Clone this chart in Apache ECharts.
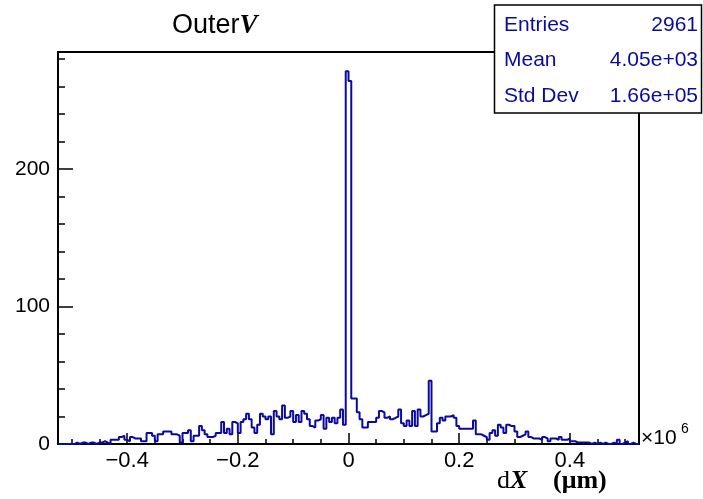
<!DOCTYPE html>
<html><head><meta charset="utf-8">
<script src="https://cdn.jsdelivr.net/npm/echarts@6/dist/echarts.min.js"></script>
<style>html,body{margin:0;padding:0;background:#fff}#c{width:703px;height:499px}</style>
</head><body><div id="c"></div>
<script>
// histogram binning
const binLow = -0.525;
const binWidth = 0.005;
// bin contents (210 bins)
const counts = [
  0,0,0,0,0,0,1,0,1,1, 0,1,1,0,1,1,2,1,0,3,
  3,3,5,6,3,2,5,4,4,4, 2,2,8,8,6,2,7,7,9,9,
  9,7,7,6,1,8,8,10,2,6, 6,13,
  10,7,5,5,6,8,8,16,8,11, 7,16,15,8,16,18,22,18,12,8,
  14,22,20,18,20,7,24,20,18,28, 19,20,24,16,21,16,24,22,18,13,
  12,17,18,21,11,19,16,19,15,19, 25,14,
  271,264,33,33,23,18,12,12,16,16, 16,19,24,23,19,20,18,19,20,25,
  15,13,17,13,24,13,25,20,21,22, 46,9,9,15,19,17,20,20,21,19,
  13,11,11,11,11,11,17,7,7,6, 5,3,
  8,10,6,14,12,8,14,13,13,9, 5,6,7,9,5,4,4,4,3,5,
  4,2,4,4,3,5,3,3,4,2, 2,1,1,1,1,1,0,1,0,1,
  0,1,0,0,1,0,3,0,1,2, 0,1,0,0
];
const xMajorTicks = [-0.4, -0.2, 0, 0.2, 0.4];
const xMinorTicks = [-0.5,-0.45,-0.35,-0.3,-0.25,-0.15,-0.1,-0.05,0.05,0.1,0.15,0.25,0.3,0.35,0.45,0.5];
const yMajorTicks = [0, 100, 200];
const yMinorTicks = [20,40,60,80,120,140,160,180,220,240,260,280];
const statNames = ['Entries', 'Mean', 'Std Dev'];
const statValues = ['2961', '4.05e+03', '1.66e+05'];
const titleMain = 'Outer';
const titleVar = 'V';

const xMin = binLow, xMax = binLow + counts.length * binWidth;
const yMax = 285;
const points = counts.map((v, i) => [binLow + i * binWidth, v]);
points.push([xMax, counts[counts.length - 1]]);

const blue = '#0a0aa0';
const sans = 'Liberation Sans, Arial, sans-serif';
const serif = 'Liberation Serif, Times New Roman, serif';
const fmtX = v => (v < 0 ? '\u2212' : '') + String(Math.abs(Math.round(v * 10) / 10));

const chart = echarts.init(document.getElementById('c'), null, {renderer: 'canvas'});
const graphics = [];
graphics.push({type: 'text', z: 100, style: {x: 172, y: 26, text: '{a|' + titleMain + '}{b|' + titleVar + '}', verticalAlign: 'middle',
  rich: {a: {fontSize: 27, fontFamily: sans, fill: '#000'}, b: {fontSize: 27, fontFamily: serif, fontWeight: 'bold', fontStyle: 'italic', fill: '#000'}}}});
graphics.push({type: 'rect', z: 100, shape: {x: 494.5, y: 5, width: 207, height: 108}, style: {fill: '#fff', stroke: '#000', lineWidth: 1.5}});
statNames.forEach((n, i) => {
  const y = 25 + i * 35.5;
  graphics.push({type: 'text', z: 101, style: {x: 504, y: y, text: n, fontSize: 21, fontFamily: sans, fill: blue, verticalAlign: 'middle', align: 'left'}});
  graphics.push({type: 'text', z: 101, style: {x: 698, y: y, text: statValues[i], fontSize: 21, fontFamily: sans, fill: blue, verticalAlign: 'middle', align: 'right'}});
});
graphics.push({type: 'text', z: 100, style: {x: 641, y: 438, text: '\u00d710', fontSize: 21, fontFamily: sans, fill: '#000', verticalAlign: 'middle'}});
graphics.push({type: 'text', z: 100, style: {x: 681, y: 429, text: '6', fontSize: 14, fontFamily: sans, fill: '#000', verticalAlign: 'middle'}});
graphics.push({type: 'text', z: 100, style: {x: 497, y: 481, text: '{d|d}{x|X}', verticalAlign: 'middle',
  rich: {d: {fontSize: 26, fontFamily: serif, fill: '#000'}, x: {fontSize: 26, fontFamily: serif, fontWeight: 'bold', fontStyle: 'italic', fill: '#000'}}}});
graphics.push({type: 'text', z: 100, style: {x: 553, y: 481, text: '(\u03bcm)', fontSize: 26, fontFamily: serif, fontWeight: 'bold', fill: '#000', verticalAlign: 'middle'}});

const option = {
  animation: false,
  backgroundColor: '#fff',
  grid: {left: 58, top: 52, right: 64, bottom: 55, show: true, borderColor: '#000', borderWidth: 2, backgroundColor: 'transparent'},
  xAxis: [
    {type: 'value', min: xMin, max: xMax, position: 'bottom',
     axisLine: {show: true, onZero: false, lineStyle: {color: '#000', width: 2}},
     axisTick: {show: true, inside: true, length: 11, customValues: xMajorTicks, lineStyle: {color: '#000', width: 1.5}},
     axisLabel: {show: true, customValues: xMajorTicks, formatter: fmtX, fontSize: 22, fontFamily: sans, color: '#000', margin: 6},
     splitLine: {show: false}},
    {type: 'value', min: xMin, max: xMax, position: 'bottom',
     axisLine: {show: false, onZero: false},
     axisTick: {show: true, inside: true, length: 5, customValues: xMinorTicks, lineStyle: {color: '#000', width: 1.5}},
     axisLabel: {show: false},
     splitLine: {show: false}}
  ],
  yAxis: [
    {type: 'value', min: 0, max: yMax, position: 'left',
     axisLine: {show: true, onZero: false, lineStyle: {color: '#000', width: 2}},
     axisTick: {show: true, inside: true, length: 15, customValues: yMajorTicks, lineStyle: {color: '#000', width: 1.5}},
     axisLabel: {show: true, customValues: yMajorTicks, fontSize: 21, fontFamily: sans, color: '#000', margin: 8},
     splitLine: {show: false}},
    {type: 'value', min: 0, max: yMax, position: 'left',
     axisLine: {show: false, onZero: false},
     axisTick: {show: true, inside: true, length: 7, customValues: yMinorTicks, lineStyle: {color: '#000', width: 1.5}},
     axisLabel: {show: false},
     splitLine: {show: false}}
  ],
  series: [{
    type: 'line', step: 'end', data: points, xAxisIndex: 0, yAxisIndex: 0,
    symbol: 'none', clip: true,
    lineStyle: {color: blue, width: 2}
  }],
  graphic: graphics
};
chart.setOption(option);
</script>
</body></html>
